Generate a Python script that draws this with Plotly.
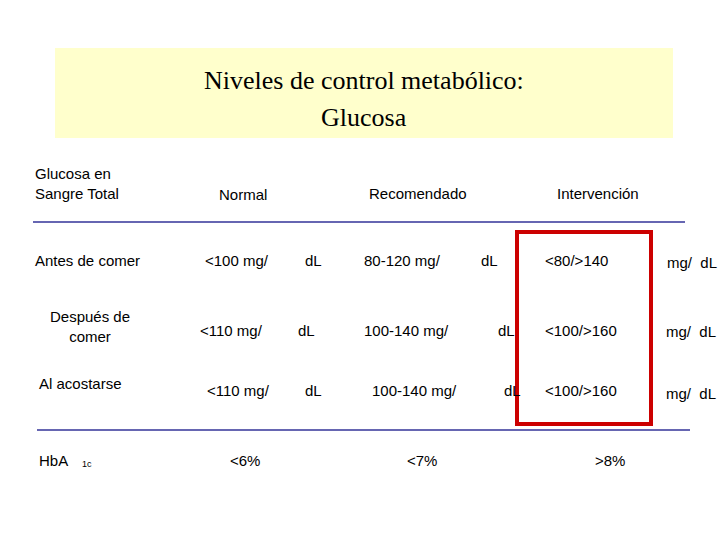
import plotly.graph_objects as go

W, H = 728, 546
OX, OY = 8, 8  # page offset compensation

title_lines = ["Niveles de control metabólico:", "Glucosa"]
headers = ["Normal", "Recomendado", "Intervención"]
header_x = [243, 418, 598]
row_labels = ["Antes de comer", "Después de<br>comer", "Al acostarse"]
row_label_pos = [(33, 260, "left"), (90, 326, "center"), (37, 383, "left")]
normal_vals = ["<100 mg/", "<110 mg/", "<110 mg/"]
normal_dl_x = [(203, 303, 260), (198, 296, 330), (205, 303, 390)]
rec_vals = ["80-120 mg/", "100-140 mg/", "100-140 mg/"]
rec_dl_x = [(362, 479, 260), (362, 496, 330), (370, 502, 390)]
int_vals = ["<80/>140", "<100/>160", "<100/>160"]
int_y = [260, 330, 390]
unit_pos = [(665, 262), (664, 331), (664, 393)]
hba_vals = ["<6%", "<7%", ">8%"]
hba_x = [245, 422, 610]

fig = go.Figure()
fig.add_trace(go.Scatter(x=[0, W], y=[0, H], mode="markers", marker=dict(opacity=0), hoverinfo="skip"))

def rect(x0, x1, y0, y1, **kw):
    fig.add_shape(type="rect", x0=x0 - OX, x1=x1 - OX, y0=y0 - OY, y1=y1 - OY, **kw)

def hline(x0, x1, y):
    fig.add_shape(type="line", x0=x0 - OX, x1=x1 - OX, y0=y - OY, y1=y - OY,
                  line=dict(color="#333399", width=1.5))

rect(55, 673, 48, 138, fillcolor="#FFFFCC", line_width=0, layer="below")
hline(33, 685, 222)
hline(37, 690, 430)
rect(517, 651, 232, 424, line=dict(color="#CC0000", width=4))

F = "Liberation Sans, Arial, sans-serif"

def txt(x, y, s, anchor="left", size=15, font=F):
    fig.add_annotation(x=x - OX, y=y - OY, text=s, showarrow=False, xanchor=anchor, yanchor="middle",
                       align=anchor, font=dict(family=font, size=size, color="black"))

for i, t in enumerate(title_lines):
    txt(364, 80 + 37 * i, t, "center", 26, "Liberation Serif, Times New Roman, serif")

txt(33, 183, "Glucosa en<br>Sangre Total")
for h, x in zip(headers, header_x):
    txt(x, 194 if h == "Normal" else 193, h, "center")

for i in range(3):
    x, y, a = row_label_pos[i]
    txt(x, y, row_labels[i], a)
    nx, dx, ny = normal_dl_x[i]
    txt(nx, ny, normal_vals[i]); txt(dx, ny, "dL")
    rx, rdx, ry = rec_dl_x[i]
    txt(rx, ry, rec_vals[i]); txt(rdx, ry, "dL")
    txt(543, int_y[i], int_vals[i])
    ux, uy = unit_pos[i]
    txt(ux, uy, "mg/&nbsp;&nbsp;dL")

txt(37, 460, "HbA")
txt(80, 464, "1c", size=9)
for v, x in zip(hba_vals, hba_x):
    txt(x, 460, v, "center")

fig.update_layout(width=W, height=H, margin=dict(l=0, r=0, t=0, b=0),
                  plot_bgcolor="white", paper_bgcolor="white", showlegend=False,
                  xaxis=dict(range=[0, W], visible=False, fixedrange=True),
                  yaxis=dict(range=[H, 0], visible=False, fixedrange=True))
fig.write_html("out.html")
